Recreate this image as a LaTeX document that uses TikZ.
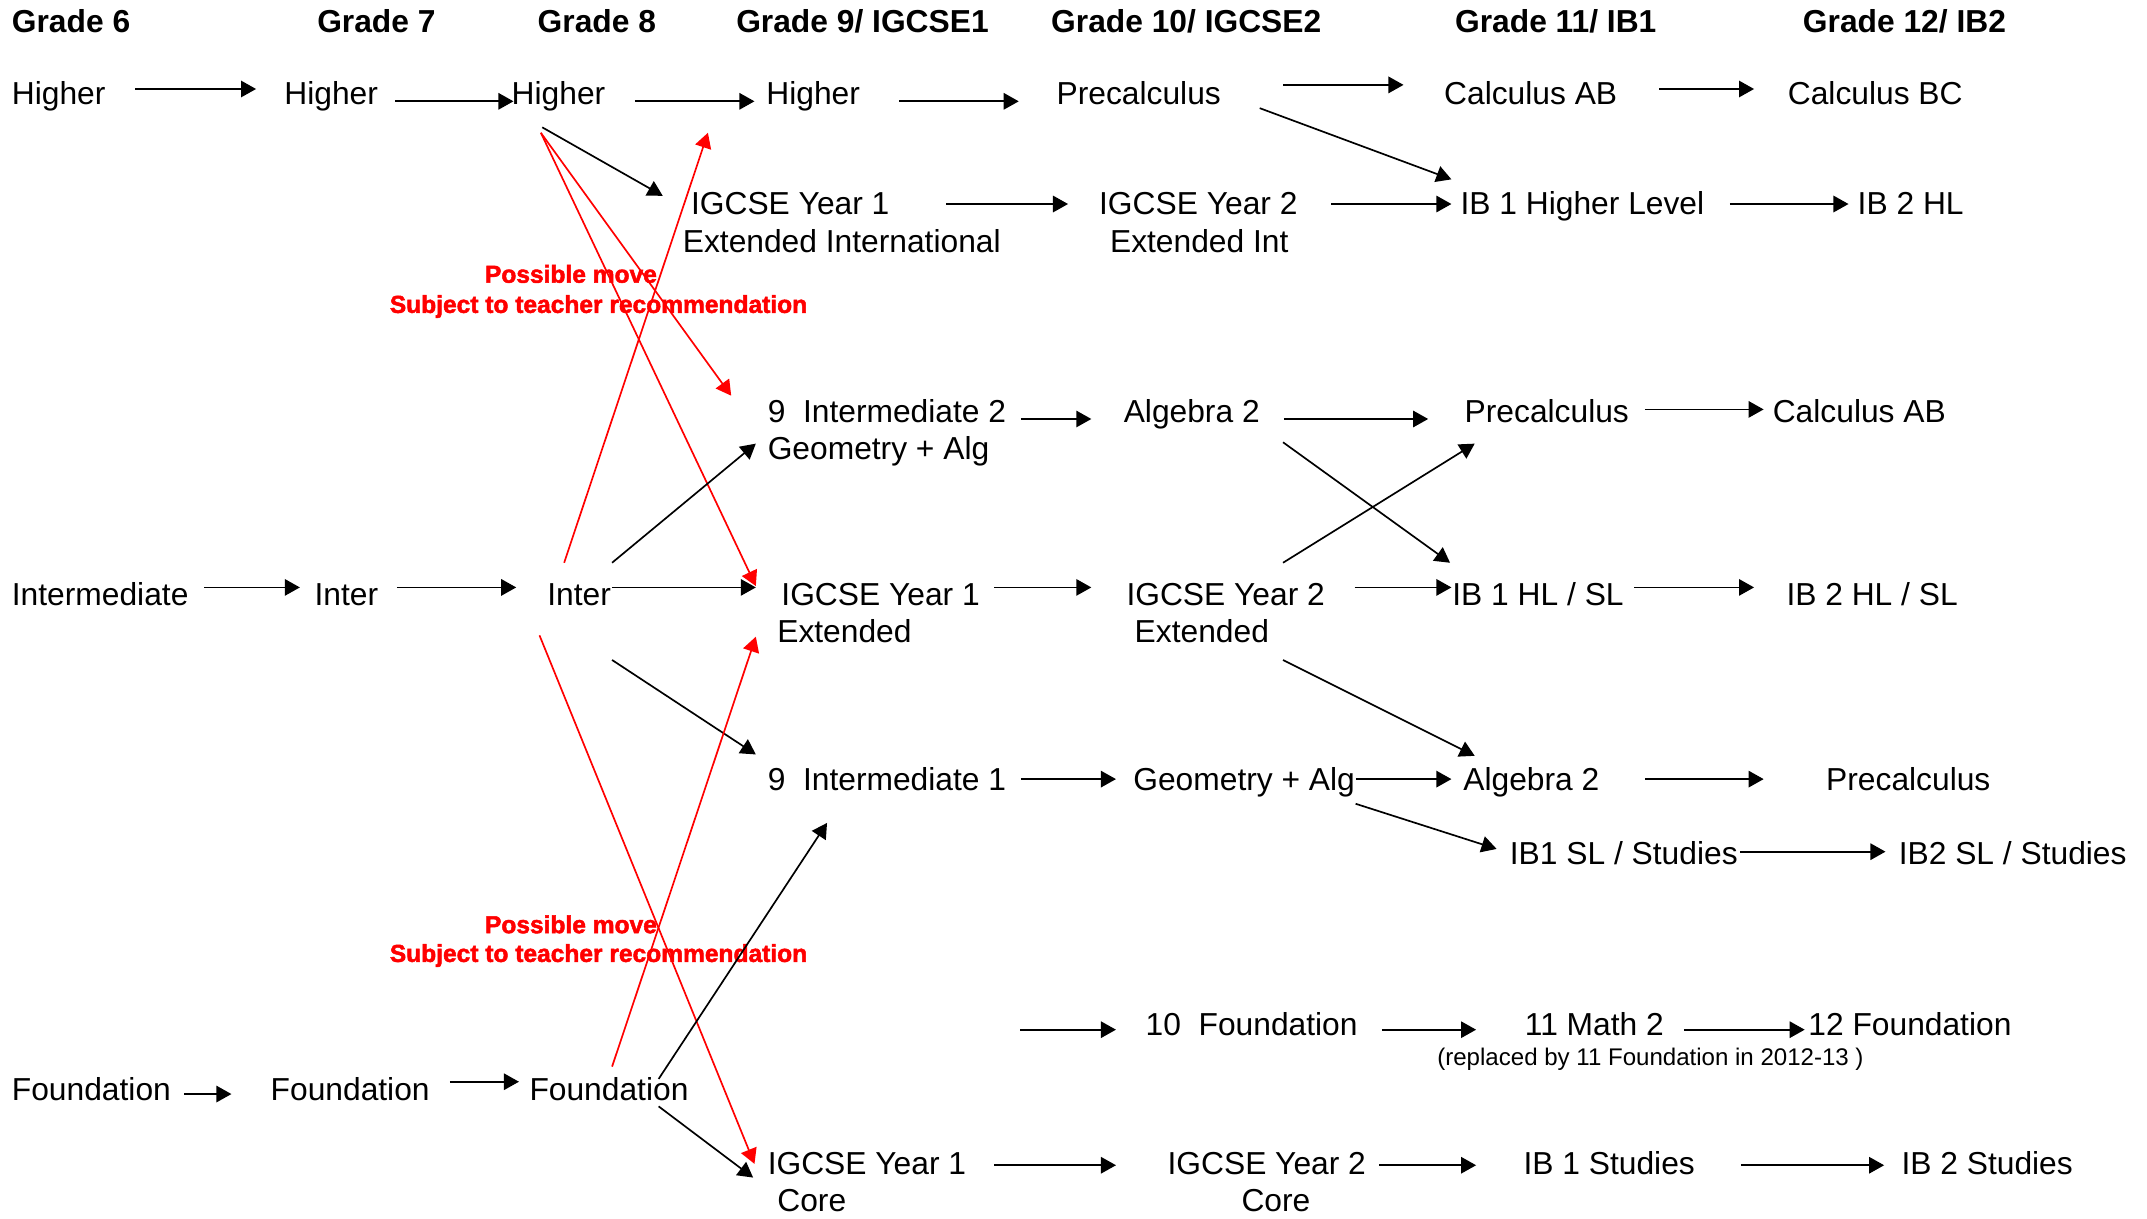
\documentclass[tikz,border=0pt]{standalone}
\usepackage{fontspec}
\setmainfont{Liberation Sans}
\newfontfamily\heavyfont[FakeBold=2]{Liberation Sans Bold}
\usepackage{tikz}
\usetikzlibrary{arrows.meta}
\tikzstyle{course}=[anchor=base west,inner sep=0pt,font=\fontsize{6.6}{8}\selectfont]
\tikzstyle{grade}=[course,font=\fontsize{6.6}{8}\selectfont\bfseries]
\tikzstyle{advice}=[course,text=red,font=\fontsize{5.1}{6}\selectfont\heavyfont]
\tikzstyle{remark}=[course,font=\fontsize{5}{6}\selectfont]
\tikzstyle{flow}=[draw,line width=0.35pt,-{Triangle[length=1.1mm,width=1.2mm]}]

\begin{document}
\begin{tikzpicture}[x=1cm,y=-1cm]
    \useasboundingbox (0,0) rectangle (15.68,8.90);

    % grade headings
    \foreach \nm/\x/\t in {g6/0.08/Grade 6, g7/2.31/Grade 7, g8/3.92/Grade 8, g9/5.37/{Grade 9/ IGCSE1},
                           g10/7.67/{Grade 10/ IGCSE2}, g11/10.62/{Grade 11/ IB1}, g12/13.16/{Grade 12/ IB2}}
        \node[grade] (\nm) at (\x,0.235) {\t};

    % courses
    \foreach \nm/\x/\y/\t in {h6/0.08/0.765/Higher, h7/2.07/0.765/Higher, h8/3.73/0.765/Higher, h9/5.59/0.765/Higher,
                              pre10/7.71/0.765/Precalculus, cab11/10.54/0.765/Calculus AB, cbc12/13.05/0.765/Calculus BC,
                              ext9/5.04/1.565/IGCSE Year 1, ext9l/4.98/1.845/Extended International,
                              ext10/8.02/1.565/IGCSE Year 2, ext10l/8.10/1.845/Extended Int,
                              ib1hl/10.66/1.565/IB 1 Higher Level, ib2hl/13.56/1.565/IB 2 HL,
                              int9b/5.60/3.085/{9\ \ Intermediate 2}, int9bl/5.60/3.355/Geometry + Alg,
                              alg10/8.20/3.085/Algebra 2, pre11/10.69/3.085/Precalculus, cab12/12.94/3.085/Calculus AB,
                              i6/0.08/4.425/Intermediate, i7/2.29/4.425/Inter, i8/3.99/4.425/Inter,
                              igx9/5.70/4.425/IGCSE Year 1, igx9l/5.67/4.695/Extended,
                              igx10/8.22/4.425/IGCSE Year 2, igx10l/8.28/4.695/Extended,
                              ib1hs/10.60/4.425/{IB 1 HL / SL}, ib2hs/13.04/4.425/{IB 2 HL / SL},
                              int9a/5.60/5.775/{9\ \ Intermediate 1}, geo10/8.27/5.775/Geometry + Alg,
                              alg11/10.68/5.775/Algebra 2, pre12/13.33/5.775/Precalculus,
                              ib1sl/11.02/6.315/{IB1 SL / Studies}, ib2sl/13.86/6.315/{IB2 SL / Studies},
                              fnd10/8.36/7.565/{10\ \ Foundation}, m11/11.13/7.565/11 Math 2, fnd12/13.20/7.565/12 Foundation,
                              f6/0.08/8.035/Foundation, f7/1.97/8.035/Foundation, f8/3.86/8.035/Foundation,
                              core9/5.60/8.575/IGCSE Year 1, core9l/5.67/8.845/Core,
                              core10/8.52/8.575/IGCSE Year 2, core10l/9.06/8.845/Core,
                              ib1st/11.12/8.575/IB 1 Studies, ib2st/13.88/8.575/IB 2 Studies}
        \node[course] (\nm) at (\x,\y) {\t};

    \node[remark] (note) at (10.49,7.785) {(replaced by 11 Foundation in 2012-13 )};

    \node[advice] (pm1) at (3.535,2.065) {Possible move};
    \node[advice] (st1) at (2.84,2.285) {Subject to teacher recommendation};
    \node[advice] (pm2) at (3.535,6.815) {Possible move};
    \node[advice] (st2) at (2.84,7.025) {Subject to teacher recommendation};

    \coordinate (fin) at (7.45,7.52);

    % straight moves: source/dest/gap at start/gap at end/height
    \foreach \a/\b/\s/\e/\d in {h6/h7/21/20/-11.5, h7/h8/12/-2/-2.5, h8/h9/21/8/-2.5, h9/pre10/28/27/-2.5,
                                pre10/cab11/45/29/-14.5, cab11/cbc12/30/24/-11.5,
                                ext9/ext10/41/22/-7.5, ext10/ib1hl/24/6/-7.5, ib1hl/ib2hl/18/6/-7.5,
                                int9b/alg10/10/23/-2.5, alg10/pre11/17/26/-2.5, pre11/cab12/11/6/-9.5,
                                i6/i7/11/10/-13.5, i7/i8/13/22/-13.5, i8/igx9/0/18/-13.5, igx9/igx10/10/25/-13.5,
                                igx10/ib1hs/21/0/-13.5, ib1hs/ib2hs/7/23/-13.5,
                                int9a/geo10/10/12/-8.5, geo10/alg11/0/8/-8.5, alg11/pre12/33/45/-8.5, ib1sl/ib2sl/1/9/-9.5,
                                fnd10/m11/17/35/-4.5, m11/fnd12/14/2/-4.5,
                                f6/f7/9/28/-4.5, f7/f8/14/7/-13.5,
                                core9/core10/20/37/-6.5, core10/ib1st/9/34/-6.5, ib1st/ib2st/33/12/-6.5}
        \draw[flow, shorten <=\s*0.01cm, shorten >=\e*0.01cm] ([shift={(0,\d*0.01)}]\a.base east) -- ([shift={(0,\d*0.01)}]\b.base west);

    \draw[flow, shorten >=0.21cm] (fin) -- ([shift={(0,-0.045)}]fnd10.base west);

    % slanted moves
    \foreach \a/\ax/\ay/\b/\bx/\by/\c in {h8/0.23/0.165/ext9/-0.20/-0.135/black, pre10/1.49/0.025/ib1hl/-0.06/-0.255/black,
                                          h8/0.22/0.205/int9b/-0.26/-0.195/red, h8/0.22/0.205/igx9/-0.18/-0.145/red,
                                          i8/0.13/-0.315/h9/-0.42/0.205/red, i8/0.48/-0.315/int9bl/-0.08/-0.115/black,
                                          i8/0.48/0.395/int9a/-0.08/-0.265/black, i8/-0.05/0.215/core9/-0.09/-0.075/red,
                                          f8/0.95/-0.155/int9a/0.44/0.235/black, f8/0.61/-0.245/igx9l/-0.15/-0.045/red,
                                          f8/0.95/0.045/core9/-0.10/0.025/black,
                                          alg10/1.17/0.145/ib1hs/-0.01/-0.315/black, igx10/1.15/-0.315/pre11/0.08/0.155/black,
                                          igx10/1.15/0.395/alg11/0.09/-0.255/black, geo10/1.63/0.095/ib1sl/-0.09/-0.115/black}
        \draw[flow, color=\c] ([shift={(\ax,\ay)}]\a.base west) -- ([shift={(\bx,\by)}]\b.base west);

\end{tikzpicture}
\end{document}
